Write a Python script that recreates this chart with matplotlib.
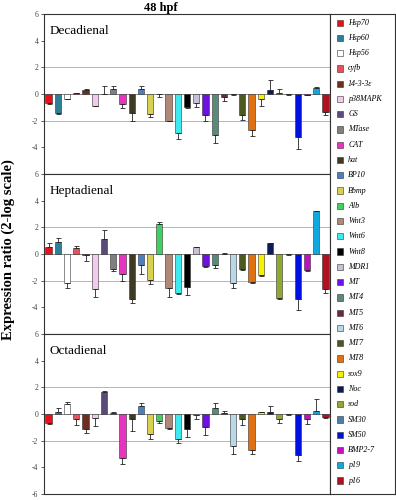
import numpy as np
import matplotlib.pyplot as plt
from matplotlib.patches import Rectangle

# 유전자 이름과 색상
genes = ['Hsp70', 'Hsp60', 'Hsp56', 'cyfb', '14-3-3ε', 'p38MAPK', 'GS', 'MTase', 'CAT', 'hat',
         'BP10', 'Bbmp', 'Alb', 'Wnt3', 'Wnt6', 'Wnt8', 'MDR1', 'MT', 'MT4', 'MT5',
         'MT6', 'MT7', 'MT8', 'sox9', 'Noc', 'sod', 'SM30', 'SM50', 'BMP2-7', 'p19', 'p16']
colors = ['#e8101a', '#2e7f98', '#ffffff', '#e8505a', '#6e2e1e', '#f5c8f0', '#5a4a78', '#7f7f7f',
          '#e832c0', '#3f3a24', '#4a7fc0', '#d8d050', '#40d060', '#b08878', '#40e8f0', '#000000',
          '#c8c0d8', '#7010e0', '#5a8a7a', '#6a2a3a', '#b8d8e8', '#4a5a20', '#e07010', '#f8f000',
          '#0a1a5a', '#90a830', '#4a7ea8', '#0010e0', '#c010c0', '#10a8e0', '#b01020']

# 처리별 발현 비율 (2-log)
decadienal = [-0.65, -1.45, -0.35, 0.05, 0.28, -0.88, 0.02, 0.38, -0.76, -1.45, 0.38, -1.5, -0.03,
              -2.0, -2.95, -0.95, -0.7, -1.54, -3.05, -0.23, -0.03, -1.54, -2.69, -0.38, 0.33,
              0.08, -0.03, -3.25, -0.05, 0.48, -1.37]
decadienal_err = [0.12, 0.05, 0.05, 0.03, 0.1, 0.05, 0.55, 0.25, 0.3, 0.6, 0.2, 0.25, 0.2, 0.03,
                  0.43, 0.12, 0.25, 0.49, 0.62, 0.31, 0.05, 0.43, 0.44, 0.52, 0.72, 0.3, 0.03,
                  0.9, 0.05, 0.05, 0.18]
heptadienal = [0.52, 0.91, -2.2, 0.44, -0.05, -2.64, 1.14, -1.11, -1.53, -3.38, -0.81, -1.93, 2.25,
               -2.54, -2.96, -2.47, 0.52, -0.91, -0.81, 0.03, -2.2, -1.11, -2.1, -1.56, 0.81,
               -3.28, -0.03, -3.4, -1.21, 3.19, -2.62]
heptadienal_err = [0.29, 0.28, 0.37, 0.16, 0.5, 0.55, 0.64, 0.15, 0.52, 0.32, 0.67, 0.29, 0.12,
                   0.72, 0.05, 0.57, 0.03, 0.09, 0.23, 0.02, 0.32, 0.09, 0.05, 0.07, 0.03, 0.12,
                   0.02, 0.8, 0.07, 0.03, 0.34]
octadienal = [-0.7, 0.15, 0.75, -0.4, -1.15, -0.32, 1.68, 0.05, -3.32, -0.37, 0.6, -1.5, -0.5,
              -1.02, -1.85, -1.1, -0.05, -1.0, 0.45, 0.08, -2.42, -0.35, -2.7, 0.12, 0.18, -0.35,
              -0.03, -3.05, -0.4, 0.22, -0.2]
octadienal_err = [0.05, 0.27, 0.12, 0.45, 0.3, 0.6, 0.03, 0.13, 0.46, 0.93, 0.2, 0.35, 0.15, 0.13,
                  0.3, 0.6, 0.35, 0.6, 0.35, 0.14, 0.55, 0.5, 0.32, 0.05, 0.42, 0.35, 0.03, 0.5,
                  0.38, 0.88, 0.12]

panels = [('Decadienal', decadienal, decadienal_err),
          ('Heptadienal', heptadienal, heptadienal_err),
          ('Octadienal', octadienal, octadienal_err)]

plt.rcParams['font.family'] = ['Liberation Serif', 'DejaVu Serif']
plt.rcParams['axes.unicode_minus'] = False

fig = plt.figure(figsize=(3.96, 5.0), dpi=100)

left, right = 44 / 396, 330 / 396
tops = [14, 174, 334]
h = 160
x = np.arange(len(genes))

for k, (name, vals, errs) in enumerate(panels):
    ax = fig.add_axes([left, 1 - (tops[k] + h) / 500, right - left, h / 500])
    vals = np.array(vals)
    errs = np.array(errs)
    lower = np.where(vals < 0, errs, 0)
    upper = np.where(vals >= 0, errs, 0)
    ax.bar(x, vals, width=0.68, color=colors, edgecolor='#333333', linewidth=0.4, zorder=3)
    ax.errorbar(x, vals, yerr=[lower, upper], fmt='none', ecolor='#222222',
                elinewidth=0.6, capsize=1.8, capthick=0.6, zorder=4)
    ax.axhline(0, color='#888888', lw=0.7, zorder=2)
    for g in (-2, 2):
        ax.axhline(g, color='#aaaaaa', lw=0.6, zorder=1)
    ax.set_xlim(-0.5, len(genes) - 0.5)
    ax.set_ylim(-6, 6)
    if k < 2:
        ax.set_yticks([6, 4, 2, 0, -2, -4])
    else:
        ax.set_yticks([6, 4, 2, 0, -2, -4, -6])
    ax.set_xticks([])
    ax.tick_params(axis='y', labelsize=5.5, length=2, width=0.6, pad=2, colors='#444444')
    for s in ax.spines.values():
        s.set_linewidth(0.8)
        s.set_color('#333333')
    ax.text(0.02, 0.93, name, transform=ax.transAxes, fontsize=9.5, va='top', ha='left')

# 범례
lax = fig.add_axes([330 / 396, 1 - 494 / 500, 65 / 396, 480 / 500])
lax.set_xlim(0, 1)
lax.set_ylim(1, 0)
lax.set_xticks([])
lax.set_yticks([])
for s in lax.spines.values():
    s.set_linewidth(0.8)
    s.set_color('#333333')
ys = np.linspace(0.018, 0.972, len(genes))
for yy, g, c in zip(ys, genes, colors):
    lax.add_patch(Rectangle((0.10, yy - 0.0065), 0.095, 0.013, facecolor=c,
                            edgecolor='#333333', linewidth=0.4))
    lax.text(0.28, yy, g, fontsize=5.8, style='italic', va='center', ha='left')

fig.text(0.405, 0.984, '48 hpf', fontsize=9, fontweight='bold', ha='center', va='center')
fig.text(0.022, 0.5, 'Expression ratio (2-log scale)', fontsize=10.5, fontweight='bold',
         rotation=90, ha='center', va='center')

fig.savefig('out.png', dpi=100)
